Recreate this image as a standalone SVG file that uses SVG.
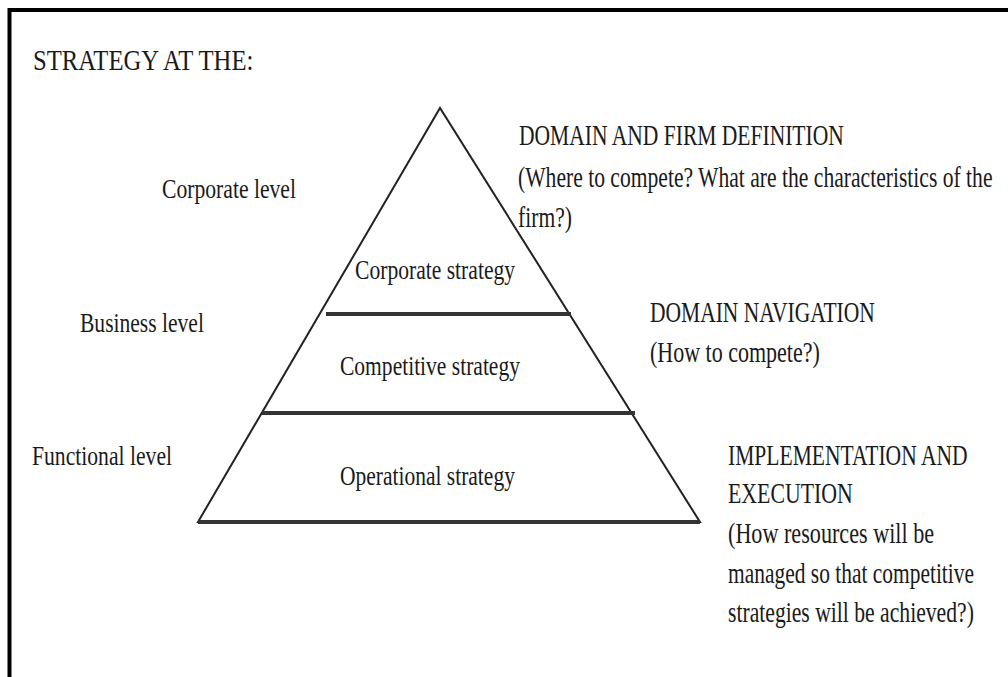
<svg xmlns="http://www.w3.org/2000/svg" width="1008" height="677" viewBox="0 0 1008 677">
<style>
text{font-family:"Liberation Serif","Times New Roman",serif;fill:#1a1a1a;}
.t{font-size:30px}
.lv{font-size:28px}
.st{font-size:28px}
.r{font-size:29px}
.side{stroke:#222;stroke-width:2;fill:none}
.div{stroke:#333;stroke-width:4}
</style>
<rect x="0" y="0" width="1008" height="677" fill="#ffffff"/>
<path d="M9.5 677 V10 H1008" fill="none" stroke="#000" stroke-width="4"/>
<g id="title"><text class="t" transform="translate(33,70) scale(0.823,1)">STRATEGY AT THE:</text></g>
<g id="pyramid">
<path class="side" d="M198 522 L440 108 L700 522 Z"/>
<line class="div" x1="198" y1="522" x2="700" y2="522" stroke-width="3"/>
</g>
<g id="connectors">
<line class="div" x1="326" y1="314" x2="571" y2="314"/>
<line class="div" x1="262" y1="413" x2="635" y2="413"/>
</g>
<g id="levels">
<text class="lv" transform="translate(162,198) scale(0.773,1)">Corporate level</text>
<text class="lv" transform="translate(80,332) scale(0.77,1)">Business level</text>
<text class="lv" transform="translate(32,465) scale(0.773,1)">Functional level</text>
</g>
<g id="corporate-strategy"><text class="st" transform="translate(355,279) scale(0.771,1)">Corporate strategy</text></g>
<g id="competitive-strategy"><text class="st" transform="translate(340,375) scale(0.769,1)">Competitive strategy</text></g>
<g id="operational-strategy"><text class="st" transform="translate(340,485) scale(0.768,1)">Operational strategy</text></g>
<g id="domain-definition">
<text class="r" transform="translate(519,145) scale(0.743,1)">DOMAIN AND FIRM DEFINITION</text>
<text class="r" transform="translate(518,187) scale(0.745,1)">(Where to compete? What are the characteristics of the</text>
<text class="r" transform="translate(518,227) scale(0.745,1)">firm?)</text>
</g>
<g id="domain-navigation">
<text class="r" transform="translate(650,322) scale(0.742,1)">DOMAIN NAVIGATION</text>
<text class="r" transform="translate(650,362) scale(0.759,1)">(How to compete?)</text>
</g>
<g id="implementation">
<text class="r" transform="translate(728,465) scale(0.744,1)">IMPLEMENTATION AND</text>
<text class="r" transform="translate(728,503) scale(0.753,1)">EXECUTION</text>
<text class="r" transform="translate(728,543) scale(0.764,1)">(How resources will be</text>
<text class="r" transform="translate(728,583) scale(0.74,1)">managed so that competitive</text>
<text class="r" transform="translate(728,622) scale(0.747,1)">strategies will be achieved?)</text>
</g>
</svg>
